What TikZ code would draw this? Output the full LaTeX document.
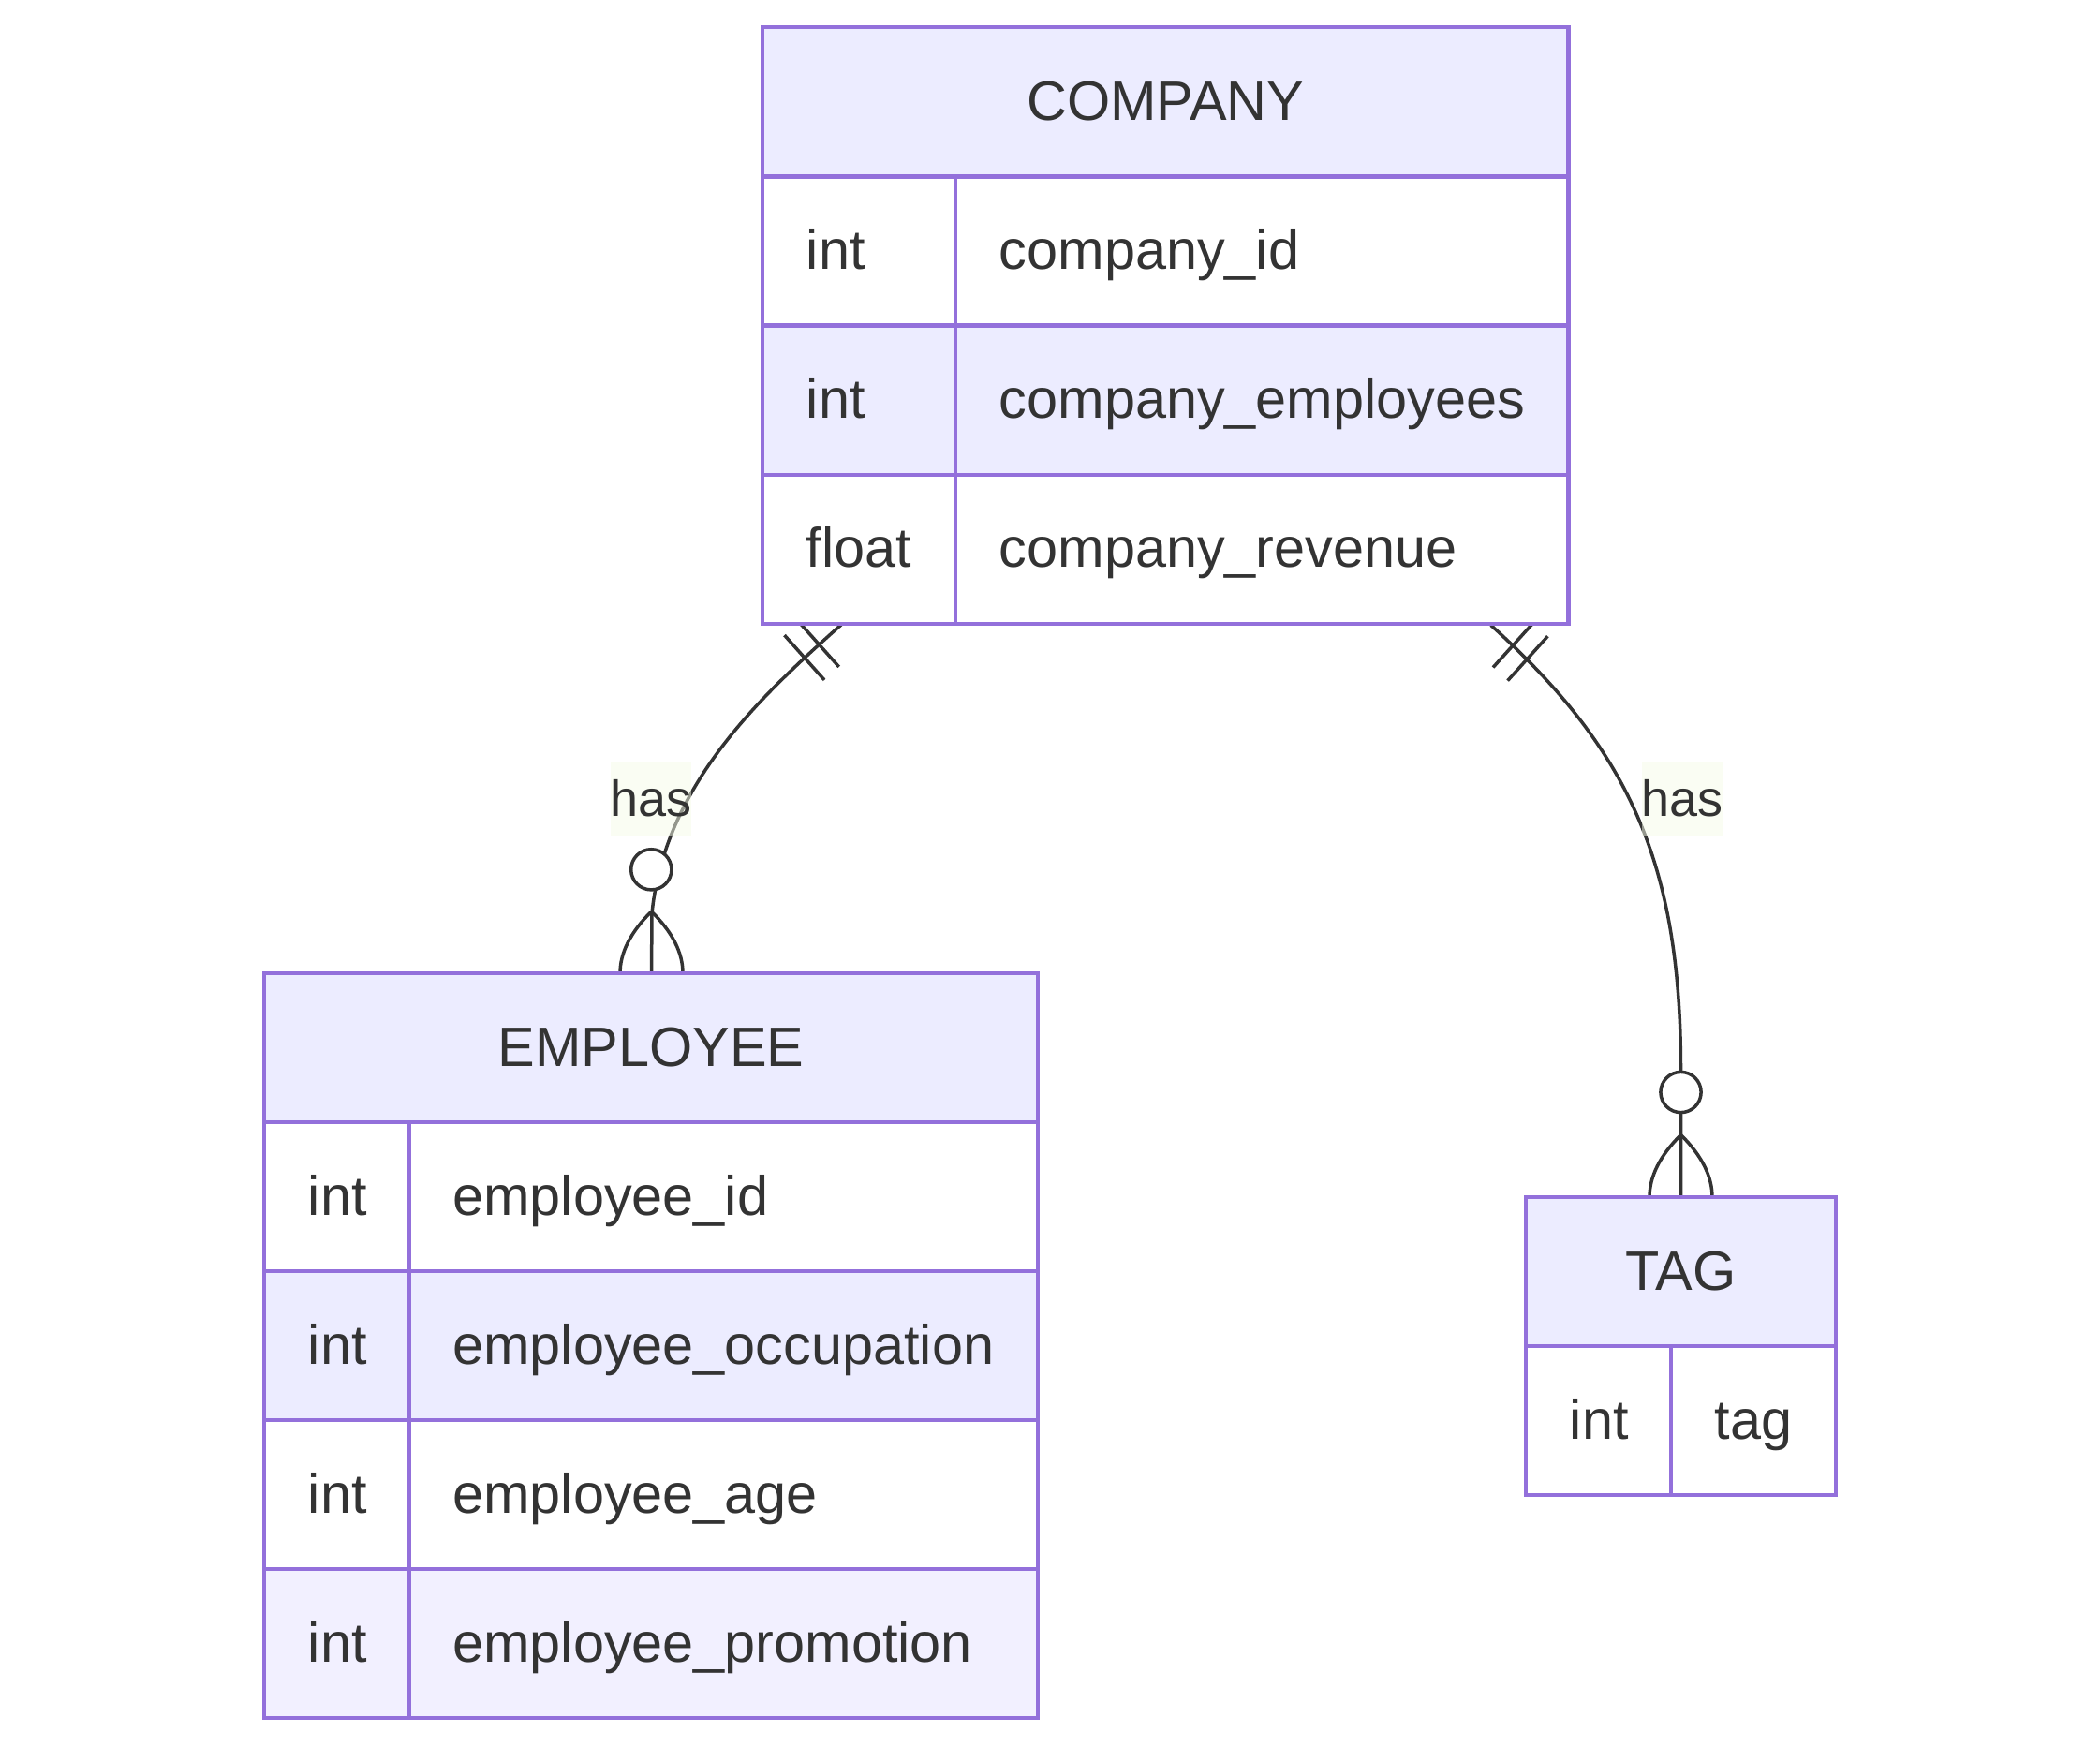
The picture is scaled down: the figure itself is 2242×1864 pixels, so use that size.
\documentclass[tikz,border=0pt]{standalone}
\usepackage{fontspec}
\setmainfont{Liberation Sans}
\definecolor{ebd}{HTML}{9370DB}
\definecolor{hdr}{HTML}{ECECFF}
\definecolor{rowb}{HTML}{F2F0FF}
\definecolor{ink}{HTML}{333333}
\definecolor{lblbg}{HTML}{F6FCE8}
\tikzset{
  ebox/.style={draw=ebd, line width=2.25pt},
  conn/.style={draw=ink, line width=1.75pt},
  hdrtxt/.style={anchor=base, text=ink, font=\fontsize{29.7}{35}\selectfont, inner sep=0pt},
  attrtxt/.style={anchor=base west, text=ink, font=\fontsize{29.7}{35}\selectfont, inner sep=0pt},
  lbltxt/.style={anchor=base, text=ink, font=\fontsize{27}{32}\selectfont, inner sep=0pt},
  lblbox/.style={fill=lblbg, fill opacity=0.5, inner sep=0pt, minimum width=43.3pt, minimum height=39.2pt},
  crowcirc/.style={draw=ink, fill=white, line width=1.75pt},
}
\begin{document}
\begin{tikzpicture}[x=0.5pt,y=-0.5pt]
\fill[white] (0,0) rectangle (2242,1864);
\useasboundingbox (0,0) rectangle (2242,1864);

% ---------- connector endpoints ----------
\coordinate (ls) at (898.3,666.7);
\coordinate (le) at (696,975);
\coordinate (lend) at (695.5,1039);
\coordinate (rs) at (1591.7,667.4);
\coordinate (re) at (1794.5,1143);
\coordinate (rend) at (1794.5,1278);

% ---------- connectors ----------
\draw[conn] (ls) .. controls (816.2,739.9) and (710,835.7) .. (le) -- (lend);
\draw[conn] (rs) .. controls (1740.1,801.2) and (1794.5,923) .. (re) -- (rend);

% only-one bars (start markers)
\coordinate (lb1a) at (853.1,664.1); \coordinate (lb1b) at (895.7,711.9);
\coordinate (lb2a) at (837.5,678.1); \coordinate (lb2b) at (880.1,725.9);
\draw[conn] (lb1a) -- (lb1b);
\draw[conn] (lb2a) -- (lb2b);
\coordinate (rb1a) at (1636.8,665.1); \coordinate (rb1b) at (1594,712.5);
\coordinate (rb2a) at (1652.4,679.2); \coordinate (rb2b) at (1609.6,726.6);
\draw[conn] (rb1a) -- (rb1b);
\draw[conn] (rb2a) -- (rb2b);

% ---------- labels ----------
\node[lblbox] (lbox1) at (695,852.5) {};
\node[lbltxt] (ltxt1) at (695,871) {has};
\node[lblbox] (lbox2) at (1796,852.5) {};
\node[lbltxt] (ltxt2) at (1796,871) {has};

% ---------- zero-or-more end markers ----------
\coordinate (lsplit) at (695.5,973);
\coordinate (lfl) at (662,1039);
\coordinate (lfr) at (729,1039);
\draw[crowcirc] (695.3,928.3) circle[radius=10.8pt];
\draw[conn] (lsplit) -- (lend);
\draw[conn] (lsplit) .. controls +(-22.3,22) and +(0,-22) .. (lfl);
\draw[conn] (lsplit) .. controls +(22.3,22) and +(0,-22) .. (lfr);

\coordinate (rsplit) at (1794.5,1211.5);
\coordinate (rfl) at (1761,1278);
\coordinate (rfr) at (1828,1278);
\draw[crowcirc] (1794.5,1166) circle[radius=10.8pt];
\draw[conn] (rsplit) -- (rend);
\draw[conn] (rsplit) .. controls +(-22.3,22) and +(0,-22) .. (rfl);
\draw[conn] (rsplit) .. controls +(22.3,22) and +(0,-22) .. (rfr);

% ---------- COMPANY ----------
\fill[hdr] (814,29) rectangle (1674.5,188.25);
\fill[white] (814,188.25) rectangle (1674.5,347.5);
\fill[hdr] (814,347.5) rectangle (1674.5,506.75);
\fill[white] (814,506.75) rectangle (1674.5,666);
\draw[ebox] (814,29) rectangle (1674.5,666);
\draw[ebox] (814,188.25) -- (1674.5,188.25);
\draw[ebox] (814,347.5) -- (1674.5,347.5);
\draw[ebox] (814,506.75) -- (1674.5,506.75);
\draw[ebox] (1020,188.25) -- (1020,666);
\node[hdrtxt] (cname) at (1244.25,128.1) {COMPANY};
\node[attrtxt] (ct1) at (860.5,287.4) {int};
\node[attrtxt] (cn1) at (1066.5,287.4) {company\_id};
\node[attrtxt] (ct2) at (860.5,446.6) {int};
\node[attrtxt] (cn2) at (1066.5,446.6) {company\_employees};
\node[attrtxt] (ct3) at (860.5,605.9) {float};
\node[attrtxt] (cn3) at (1066.5,605.9) {company\_revenue};

% ---------- EMPLOYEE ----------
\fill[hdr] (282,1039) rectangle (1108,1198);
\fill[white] (282,1198) rectangle (1108,1357);
\fill[hdr] (282,1357) rectangle (1108,1516);
\fill[white] (282,1516) rectangle (1108,1675);
\fill[rowb] (282,1675) rectangle (1108,1834);
\draw[ebox] (282,1039) rectangle (1108,1834);
\draw[ebox] (282,1198) -- (1108,1198);
\draw[ebox] (282,1357) -- (1108,1357);
\draw[ebox] (282,1516) -- (1108,1516);
\draw[ebox] (282,1675) -- (1108,1675);
\draw[ebox] (436.5,1198) -- (436.5,1834);
\node[hdrtxt] (ename) at (695,1138) {EMPLOYEE};
\node[attrtxt] (et1) at (328.5,1297) {int};
\node[attrtxt] (en1) at (483,1297) {employee\_id};
\node[attrtxt] (et2) at (328.5,1456) {int};
\node[attrtxt] (en2) at (483,1456) {employee\_occupation};
\node[attrtxt] (et3) at (328.5,1615) {int};
\node[attrtxt] (en3) at (483,1615) {employee\_age};
\node[attrtxt] (et4) at (328.5,1774) {int};
\node[attrtxt] (en4) at (483,1774) {employee\_promotion};

% ---------- TAG ----------
\fill[hdr] (1629,1278) rectangle (1960,1437);
\fill[white] (1629,1437) rectangle (1960,1596);
\draw[ebox] (1629,1278) rectangle (1960,1596);
\draw[ebox] (1629,1437) -- (1960,1437);
\draw[ebox] (1784,1437) -- (1784,1596);
\node[hdrtxt] (tname) at (1794.5,1377) {TAG};
\node[attrtxt] (tt1) at (1675.5,1536) {int};
\node[attrtxt] (tn1) at (1830.5,1536) {tag};
\end{tikzpicture}
\end{document}
